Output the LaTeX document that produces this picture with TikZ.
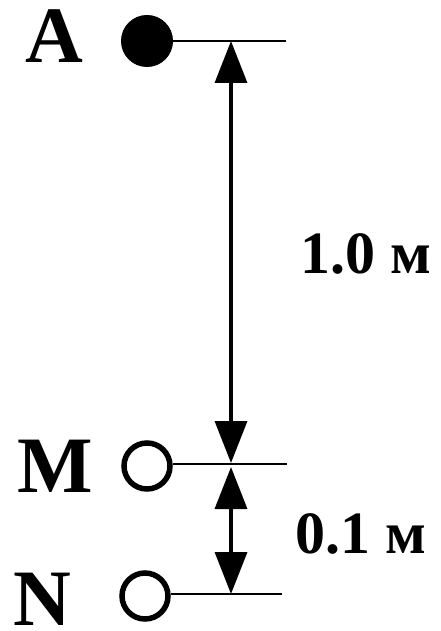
\documentclass[tikz,border=0pt]{standalone}
\usepackage{fontspec}
\setmainfont{Liberation Serif}
\usetikzlibrary{arrows.meta}
\tikzset{
  letter/.style={inner sep=0pt, anchor=base, font=\fontsize{80}{80}\selectfont\bfseries},
  dimlabel/.style={inner sep=0pt, anchor=base, font=\fontsize{60}{60}\selectfont\bfseries},
  fullpt/.style={circle, fill=black, draw=black, line width=1pt, minimum size=51pt, inner sep=0pt},
  openpt/.style={circle, draw=black, line width=5.5pt, minimum size=46pt, inner sep=0pt},
  level/.style={line width=2pt},
  dimarrow/.style={line width=3.5pt, {Triangle[length=42pt,width=32pt]}-{Triangle[length=42pt,width=32pt]}}
}
\begin{document}
\begin{tikzpicture}[x=1pt,y=-1pt]
\useasboundingbox (0,0) rectangle (440,631);
% letters
\node[letter] (lA) at (54,63) {A};
\node[letter] (lM) at (55,492) {M};
\node[letter] (lN) at (42,625) {N};
% points
\node[fullpt] (pA) at (147,41) {};
\node[openpt] (pM) at (147,466) {};
\node[openpt] (pN) at (145,596) {};
% level line ends
\coordinate (eA) at (286,41);
\coordinate (eM) at (287,464);
\coordinate (eN) at (282,594);
\draw[level] (pA.east) -- (eA);
\draw[level] (pM.east |- eM) -- (eM);
\draw[level] (pN.east |- eN) -- (eN);
% dimension arrows
\coordinate (t1) at (231,41);
\coordinate (b1) at (231,463);
\coordinate (t2) at (231,467);
\coordinate (b2) at (231,594);
\draw[dimarrow] (t1) -- (b1);
\draw[dimarrow] (t2) -- (b2);
% labels
\node[dimlabel] (d1) at (366,273) {1.0 м};
\node[dimlabel] (d2) at (361,553) {0.1 м};
\end{tikzpicture}
\end{document}
